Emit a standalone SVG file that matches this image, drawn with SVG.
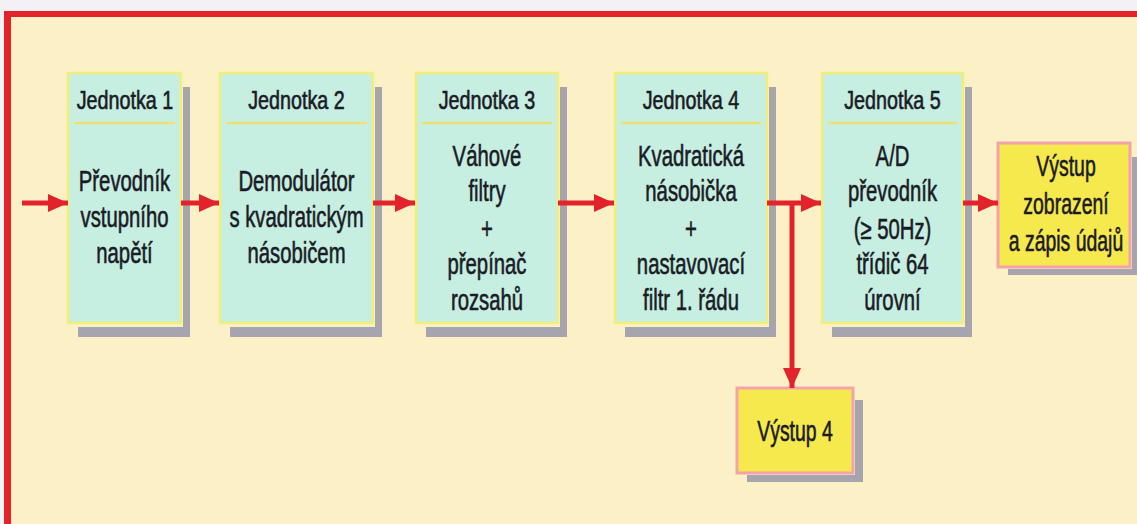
<svg xmlns="http://www.w3.org/2000/svg" width="1137" height="524" viewBox="0 0 1137 524">
  <defs>
    <style>
      .bg { fill: #f3f1f6; }
      .panel { fill: #fcf1c6; }
      .frame { fill: #e3232b; }
      .box { fill: #c6efe1; stroke: #f3ee7a; stroke-width: 2.5; }
      .sep { stroke: #efe170; stroke-width: 2.5; }
      .shadow { fill: #a6a5ae; }
      .out { fill: #f6e94e; stroke: #f2a3ab; stroke-width: 3; }
      .t { font-family: "Liberation Sans", Arial, sans-serif; fill: #1b1b26; stroke: #1b1b26; stroke-width: 0.6; text-anchor: middle; }
      .hd { font-size: 25px; }
      .bd { font-size: 29px; }
      .wire { stroke: #e3232b; stroke-width: 5; fill: none; }
    </style>
    <marker id="ah" markerUnits="userSpaceOnUse" markerWidth="22" markerHeight="18" refX="20" refY="9" orient="auto">
      <path d="M0,0 L20,9 L0,18 Z" fill="#e3232b"/>
    </marker>
  </defs>

  <rect class="bg" x="0" y="0" width="1137" height="524"/>
  <rect class="panel" x="4" y="11" width="1133" height="513"/>
  <rect class="frame" x="4" y="11" width="1133" height="6"/>
  <rect class="frame" x="4" y="11" width="7" height="513"/>

  <g id="unit1">
    <path class="shadow" d="M183,87 h7 v250 h-7 z M78,327 h112 v10 h-112 z"/>
    <rect class="box" x="68" y="73" width="113" height="250"/>
    <line class="sep" x1="74" y1="123" x2="175" y2="123"/>
    <g transform="translate(125,0) scale(0.79,1)"><text class="t hd" x="0" y="109">Jednotka 1</text></g>
    <g transform="translate(124.5,0) scale(0.7,1)">
      <text class="t bd" x="0" y="191">Převodník</text>
      <text class="t bd" x="0" y="227">vstupního</text>
      <text class="t bd" x="0" y="263">napětí</text>
    </g>
  </g>

  <g id="unit2">
    <path class="shadow" d="M375,87 h7 v250 h-7 z M230,327 h152 v10 h-152 z"/>
    <rect class="box" x="220" y="73" width="153" height="250"/>
    <line class="sep" x1="226" y1="123" x2="367" y2="123"/>
    <g transform="translate(296.5,0) scale(0.79,1)"><text class="t hd" x="0" y="109">Jednotka 2</text></g>
    <g transform="translate(296.5,0) scale(0.7,1)">
      <text class="t bd" x="0" y="191">Demodulátor</text>
      <text class="t bd" x="0" y="227">s kvadratickým</text>
      <text class="t bd" x="0" y="263">násobičem</text>
    </g>
  </g>

  <g id="unit3">
    <path class="shadow" d="M560,87 h7 v250 h-7 z M426,327 h141 v10 h-141 z"/>
    <rect class="box" x="416" y="73" width="142" height="250"/>
    <line class="sep" x1="422" y1="123" x2="552" y2="123"/>
    <g transform="translate(487,0) scale(0.79,1)"><text class="t hd" x="0" y="109">Jednotka 3</text></g>
    <g transform="translate(487,0) scale(0.7,1)">
      <text class="t bd" x="0" y="166">Váhové</text>
      <text class="t bd" x="0" y="201">filtry</text>
      <text class="t bd" x="0" y="239">+</text>
      <text class="t bd" x="0" y="274">přepínač</text>
      <text class="t bd" x="0" y="310">rozsahů</text>
    </g>
  </g>

  <g id="unit4">
    <path class="shadow" d="M769,87 h7 v250 h-7 z M625,327 h151 v10 h-151 z"/>
    <rect class="box" x="615" y="73" width="152" height="250"/>
    <line class="sep" x1="621" y1="123" x2="761" y2="123"/>
    <g transform="translate(691,0) scale(0.79,1)"><text class="t hd" x="0" y="109">Jednotka 4</text></g>
    <g transform="translate(691,0) scale(0.7,1)">
      <text class="t bd" x="0" y="166">Kvadratická</text>
      <text class="t bd" x="0" y="201">násobička</text>
      <text class="t bd" x="0" y="239">+</text>
      <text class="t bd" x="0" y="274">nastavovací</text>
      <text class="t bd" x="0" y="310">filtr 1. řádu</text>
    </g>
  </g>

  <g id="unit5">
    <path class="shadow" d="M965,87 h7 v250 h-7 z M832,327 h140 v10 h-140 z"/>
    <rect class="box" x="822" y="73" width="141" height="250"/>
    <line class="sep" x1="828" y1="123" x2="957" y2="123"/>
    <g transform="translate(892.5,0) scale(0.79,1)"><text class="t hd" x="0" y="109">Jednotka 5</text></g>
    <g transform="translate(892.5,0) scale(0.7,1)">
      <text class="t bd" x="0" y="166">A/D</text>
      <text class="t bd" x="0" y="201">převodník</text>
      <text class="t bd" x="0" y="239">(≥ 50Hz)</text>
      <text class="t bd" x="0" y="274">třídič 64</text>
      <text class="t bd" x="0" y="310">úrovní</text>
    </g>
  </g>

  <g id="out5">
    <path class="shadow" d="M1132,157 h5 v118 h-5 z M1008,269 h129 v6 h-129 z"/>
    <rect class="out" x="998" y="143" width="132" height="124"/>
    <g transform="translate(1066,0) scale(0.67,1)">
      <text class="t bd" x="0" y="176">Výstup</text>
      <text class="t bd" x="0" y="214">zobrazení</text>
      <text class="t bd" x="0" y="251">a zápis údajů</text>
    </g>
  </g>

  <g id="out4">
    <path class="shadow" d="M855,400 h8 v82 h-8 z M747,475 h116 v7 h-116 z"/>
    <rect class="out" x="737" y="388" width="116" height="85"/>
    <g transform="translate(795,0) scale(0.67,1)"><text class="t bd" x="0" y="441">Výstup 4</text></g>
  </g>

  <g id="connectors">
    <line class="wire" x1="22" y1="203" x2="68" y2="203" marker-end="url(#ah)"/>
    <line class="wire" x1="181" y1="203" x2="219" y2="203" marker-end="url(#ah)"/>
    <line class="wire" x1="373" y1="203" x2="415" y2="203" marker-end="url(#ah)"/>
    <line class="wire" x1="558" y1="203" x2="614" y2="203" marker-end="url(#ah)"/>
    <line class="wire" x1="767" y1="203" x2="821" y2="203" marker-end="url(#ah)"/>
    <line class="wire" x1="792" y1="201" x2="792" y2="388" marker-end="url(#ah)"/>
    <line class="wire" x1="963" y1="203" x2="998" y2="203" marker-end="url(#ah)"/>
  </g>
</svg>
